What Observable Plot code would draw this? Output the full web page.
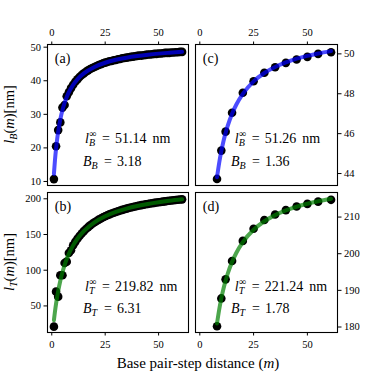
<!DOCTYPE html>
<html><head><meta charset="utf-8">
<script src="https://cdn.jsdelivr.net/npm/d3@7"></script>
<script src="https://cdn.jsdelivr.net/npm/@observablehq/plot@0.6"></script>
<style>
html,body{margin:0;padding:0;background:white;}
#chart{position:relative;width:374px;height:374px;overflow:hidden;background:white;}
#chart svg{position:absolute;left:0;top:0;}
</style></head><body><div id="chart"></div>
<script>
// ---- data ----
const stepsAB = [1,2,3,4,5,6,7,8,9,10,11,12,13,14,15,16,17,18,19,20,21,22,23,24,25,26,27,28,29,30,31,32,33,34,35,36,37,38,39,40,41,42,43,44,45,46,47,48,49,50,51,52,53,54,55,56,57,58,59,60,61];
const lbA = [10.7,20.5,25.3,27.6,32.0,32.8,35.4,36.6,37.8,38.8,39.7,40.4,41.1,41.7,42.2,42.7,43.1,43.5,43.8,44.1,44.4,44.7,44.9,45.2,45.4,45.6,45.8,45.9,46.1,46.2,46.4,46.5,46.7,46.8,46.9,47.0,47.1,47.2,47.3,47.4,47.5,47.5,47.6,47.7,47.8,47.8,47.9,48.0,48.0,48.1,48.1,48.2,48.3,48.3,48.3,48.4,48.4,48.5,48.5,48.6,48.6];
const ltB = [21,70,63,93,93,110,112,124,128,135,139.7,144.1,148.0,151.5,154.7,157.7,160.3,162.8,165.0,167.1,169.0,170.8,172.5,174.1,175.5,176.9,178.2,179.4,180.5,181.6,182.6,183.6,184.5,185.4,186.2,187.0,187.8,188.5,189.2,189.9,190.5,191.1,191.7,192.3,192.8,193.3,193.8,194.3,194.7,195.2,195.6,196.0,196.4,196.8,197.2,197.6,197.9,198.3,198.6,198.9,199.2];
const fitStepsAB = [1,1.5,2,2.5,3,4,5,6,7,8,10,12,15,20,25,30,35,40,45,50,55,61];
const fitA = [12.23,16.39,19.74,22.51,24.83,28.49,31.26,33.42,35.16,36.59,38.80,40.43,42.19,44.12,45.37,46.24,46.88,47.37,47.76,48.08,48.34,48.61];
const fitB = [30.07,42.22,52.90,62.38,70.83,85.28,97.18,107.14,115.61,122.89,134.78,144.07,154.73,167.10,175.52,181.62,186.24,189.87,192.79,195.19,197.20,199.21];

const stepsCD = [8,10,12,15,20,25,30,35,40,45,50,55,61];
const lbC = [43.73,45.15,46.10,47.05,48.05,48.63,49.05,49.33,49.55,49.72,49.85,50.00,50.08];
const ltD = [180.2,187.8,193.0,198.0,203.5,206.8,209.2,210.7,211.9,212.9,213.6,214.2,214.7];
const fitStepsCD = [8,9,10,11,12,13,15,17,20,25,30,35,40,45,50,55,61];
const fitC = [43.81,44.53,45.12,45.62,46.04,46.40,47.00,47.46,47.99,48.62,49.04,49.34,49.57,49.76,49.90,50.02,50.14];
const fitD = [180.97,184.71,187.81,190.43,192.66,194.60,197.77,200.27,203.16,206.53,208.85,210.53,211.81,212.82,213.63,214.30,214.97];

const xTicks = [0,25,50];
const yTicksA = [10,20,30,40,50];
const yTicksB = [50,100,150,200];
const yTicksC = [44,46,48,50];
const yTicksD = [180,190,200,210];

const panelTags = ["(a)","(b)","(c)","(d)"];
const linfLabels = ["51.14","219.82","51.26","221.24"];
const bLabels = ["3.18","6.31","1.36","1.78"];
const subs = ["B","T","B","T"];

// ---- layout ----
const W = 374, H = 374;
const FONT = "'Liberation Serif', 'Times New Roman', serif";
const xDom = [-2, 64];
const cols = [[47,188],[195,337]];
const rows = [[44,185],[192,332]];

const chart = document.getElementById("chart");

function toRows(xs, ys){ return xs.map((m,i)=>({m, v: ys[i]})); }

function mathText(svg, x, y, size, parts, extra){
  const t = d3.select(svg).append("text").attr("x",x).attr("y",y)
    .attr("font-family",FONT).attr("font-size",size).attr("fill","black")
    .attr("text-anchor","start");
  if (extra) extra(t);
  for (const p of parts){
    const s = t.append("tspan").text(p.t);
    if (p.i) s.attr("font-style","italic");
    if (p.fs) s.attr("font-size",p.fs);
    if (p.x!=null) s.attr("x",p.x);
    if (p.dx!=null) s.attr("dx",p.dx);
    if (p.dy!=null) s.attr("dy",p.dy);
  }
  return t;
}

function panel(k, col, row, xs, ys, fx, fy, yDom, yTicks, xAnchor, yAnchor, color){
  const [l,r] = cols[col], [t,b] = rows[row];
  const svg = Plot.plot({
    width: W, height: H,
    marginLeft: l, marginRight: W - r, marginTop: t, marginBottom: H - b,
    x: {domain: xDom, label: null},
    y: {domain: yDom, label: null},
    style: {background: "transparent", fontFamily: FONT, fontSize: "10.5px", color: "black", overflow: "visible"},
    marks: [
      Plot.axisX(xTicks, {anchor: xAnchor, tickSize: 3.5, tickPadding: 5, label: null}),
      Plot.axisY(yTicks, {anchor: yAnchor, tickSize: 3.5, tickPadding: 3, label: null}),
      Plot.dot(toRows(xs, ys), {x: "m", y: "v", r: 4.3, fill: "black", stroke: "none"}),
      Plot.line(toRows(fx, fy), {x: "m", y: "v", stroke: color, strokeWidth: 4, strokeOpacity: 0.7, curve: "monotone-x"}),
      Plot.frame({stroke: "black", strokeWidth: 1.1})
    ]
  });
  chart.appendChild(svg);
  const fw = r - l, fh = b - t;
  const ax = f => l + f*fw, ay = f => t + f*fh;
  // panel tag
  mathText(svg, ax(0.055), ay(0.135), 14, [{t: panelTags[k]}]);
  // l^inf line
  const x0 = ax(col === 0 ? 0.27 : 0.28), y0 = ay(0.705);
  mathText(svg, x0, y0, 14, [
    {t: "l", i: 1},
    {t: "∞", fs: 10, dy: -6, dx: 0.3},
    {t: subs[k], i: 1, fs: 10, x: x0 + 4, dy: 9},
    {t: "=", x: x0 + 17, dy: -3},
    {t: linfLabels[k], x: x0 + 30},
    {t: "nm", dx: 6}
  ]);
  // B line
  const x1 = ax(col === 0 ? 0.255 : 0.253), y1 = ay(0.865);
  mathText(svg, x1, y1, 14, [
    {t: "B", i: 1},
    {t: subs[k], i: 1, fs: 10, dy: 3},
    {t: "=", x: x1 + 21, dy: -3},
    {t: bLabels[k], x: x1 + 34}
  ]);
  return svg;
}

panel(0, 0, 0, stepsAB, lbA, fitStepsAB, fitA, [8.8, 50.8], yTicksA, "top", "left", "blue");
panel(1, 0, 1, stepsAB, ltB, fitStepsAB, fitB, [12.8, 208.8], yTicksB, "bottom", "left", "green");
panel(2, 1, 0, stepsCD, lbC, fitStepsCD, fitC, [43.4, 50.47], yTicksC, "top", "right", "blue");
panel(3, 1, 1, stepsCD, ltD, fitStepsCD, fitD, [178.5, 216.7], yTicksD, "bottom", "right", "green");

// axis titles
const over = d3.select(chart).append("svg").attr("width", W).attr("height", H);
const ov = over.node();
function ylab(cy, sub){
  mathText(ov, 0, 0, 14.5, [
    {t: "l", i: 1},
    {t: sub, i: 1, fs: 10, dy: 3},
    {t: "(", dy: -3},
    {t: "m", i: 1},
    {t: ")[nm]"}
  ], t => t.attr("text-anchor", "middle").attr("transform", `translate(14,${cy}) rotate(-90)`));
}
ylab((rows[0][0]+rows[0][1])/2, "B");
ylab((rows[1][0]+rows[1][1])/2, "T");
mathText(ov, 198, 368, 15, [
  {t: "Base pair-step distance ("},
  {t: "m", i: 1},
  {t: ")"}
], t => t.attr("text-anchor", "middle"));
</script></body></html>
